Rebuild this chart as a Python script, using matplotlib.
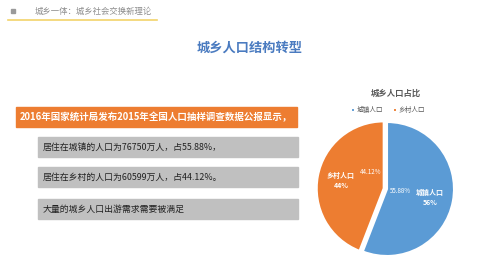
import matplotlib.pyplot as plt
from matplotlib.patches import Rectangle

plt.rcParams['font.family'] = ['Noto Sans CJK SC', 'DejaVu Sans']

# data
categories = ['城镇人口', '乡村人口']
shares = [55.88, 44.12]
colors = ['#5b9bd5', '#ed7d31']

header = '城乡一体：城乡社会交换新理论'
title = '城乡人口结构转型'
banner = '2016年国家统计局发布2015年全国人口抽样调查数据公报显示，'
points = ['居住在城镇的人口为76750万人，占55.88%，',
          '居住在乡村的人口为60599万人，占44.12%。',
          '大量的城乡人口出游需求需要被满足']

fig = plt.figure(figsize=(5, 2.77), dpi=100)

# page layer in pixel coords
bg = fig.add_axes([0, 0, 1, 1])
bg.set_xlim(0, 500)
bg.set_ylim(277, 0)
bg.axis('off')

bg.add_patch(Rectangle((11, 9), 4, 4, color='#9a9a9a'))
bg.text(35, 11.5, header, fontsize=6, color='#8c8c8c', va='center')
bg.plot([8, 157], [20, 20], color='#f2d36b', lw=1.2)

bg.text(250, 48, title, fontsize=9.5, fontweight='bold', color='#4a7bc0',
        ha='center', va='center')

bg.add_patch(Rectangle((16, 107), 281, 20, color='#ed7d31'))
bg.text(20, 117.5, banner, fontsize=6.8, fontweight='bold', color='white', va='center')

box_tops = [137, 167, 199]
for top, txt in zip(box_tops, points):
    bg.add_patch(Rectangle((38, top), 260, 20, color='#c0c0c0'))
    bg.text(43, top + 10.5, txt, fontsize=6.4, color='#222222', va='center')

bg.text(396, 93, '城乡人口占比', fontsize=6, fontweight='bold', color='#595959',
        ha='center', va='center')

# pie
r = 67
cx, cy = 387, 189
pax = fig.add_axes([(cx - 1.1 * r) / 500, 1 - (cy + 1.1 * r) / 277,
                    2.2 * r / 500, 2.2 * r / 277])
labels = [f'{c}\n{round(s)}%' for c, s in zip(categories, shares)]
wedges, texts, autotexts = pax.pie(
    shares, colors=colors, labels=labels, startangle=90, counterclock=False,
    explode=[0, 0.05], autopct='%.2f%%', pctdistance=0.2, labeldistance=0.65,
    wedgeprops=dict(edgecolor='white', linewidth=1.5),
    textprops=dict(color='white', fontsize=5, fontweight='bold'))
for t in texts:
    t.set_ha('center')
    t.set_va('center')
    t.set_linespacing(1.5)
for t in autotexts:
    t.set_fontsize(4.5)
    t.set_fontweight('normal')
autotexts[1].set_position((-0.25, 0.25))
pax.set_xlim(-1.1, 1.1)
pax.set_ylim(-1.1, 1.1)
pax.set_aspect('equal')

fig.legend(wedges, categories, loc='center', bbox_to_anchor=(388 / 500, 1 - 110 / 277),
           ncol=2, frameon=False, fontsize=4.8, handlelength=0.6, handleheight=0.6,
           columnspacing=1.5, handletextpad=0.3, labelcolor='#595959')

fig.savefig('out.png', dpi=100)
